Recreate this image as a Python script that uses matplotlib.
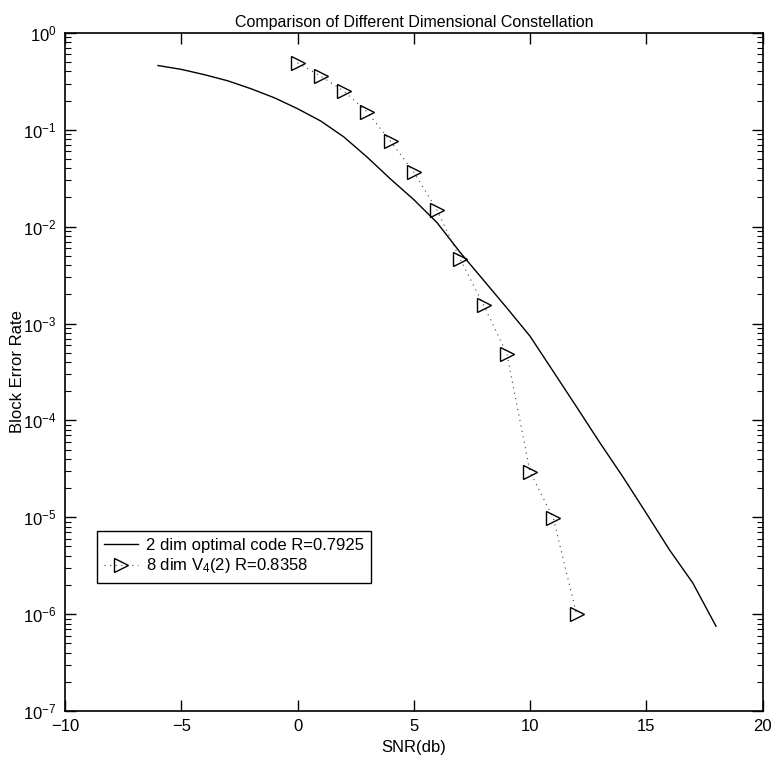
import matplotlib
matplotlib.use("Agg")
import matplotlib.pyplot as plt
from matplotlib import font_manager
import numpy as np

# font: narrow helvetica look if available
names = {f.name for f in font_manager.fontManager.ttflist}
fam = "Liberation Sans Narrow" if "Liberation Sans Narrow" in names else "Liberation Sans"
plt.rcParams["font.family"] = [fam, "DejaVu Sans"]
plt.rcParams["mathtext.fontset"] = "custom"
plt.rcParams["mathtext.rm"] = fam

# 2 dim optimal code, R=0.7925
snr_2d = [-6, -5, -4, -3, -2, -1, 0, 1, 2, 3, 4, 5, 6, 7, 8, 9, 10, 11, 12, 13, 14, 15, 16, 17, 18]
ber_2d = [0.46, 0.42, 0.37, 0.32, 0.265, 0.214, 0.165, 0.123, 0.084, 0.052, 0.031, 0.019,
          0.011, 5.4e-3, 2.8e-3, 1.45e-3, 7.4e-4, 3.2e-4, 1.38e-4, 5.9e-5, 2.6e-5, 1.1e-5,
          4.6e-6, 2.1e-6, 7.5e-7]

# 8 dim V4(2), R=0.8358
snr_8d = [0, 1, 2, 3, 4, 5, 6, 7, 8, 9, 10, 11, 12]
ber_8d = [0.49, 0.357, 0.25, 0.152, 0.076, 0.0366, 0.0148, 4.6e-3, 1.55e-3, 4.9e-4,
          2.95e-5, 9.8e-6, 1.0e-6]

fig = plt.figure(figsize=(7.75, 7.68), dpi=100)
ax = fig.add_axes([0.0839, 0.0742, 0.9, 0.883])

ax.semilogy(snr_2d, ber_2d, "k-", lw=1.0, label="2 dim optimal code R=0.7925")
ax.semilogy(snr_8d, ber_8d, color="0.25", ls=(0, (1, 4)), lw=0.8, marker=">",
            ms=9.5, mfc="none", mec="k", mew=1.0,
            label=r"8 dim $\mathregular{V_4}$(2) R=0.8358")

ax.set_xlim(-10, 20)
ax.set_ylim(1e-7, 1e0)
ax.set_xticks([-10, -5, 0, 5, 10, 15, 20])
ax.set_xticklabels(["\u221210", "\u22125", "0", "5", "10", "15", "20"])
ax.tick_params(which="both", direction="in", top=True, right=True, labelsize=12, pad=6)
ax.tick_params(which="major", length=8, width=1)
ax.tick_params(which="minor", length=4, width=0.8)
for s in ax.spines.values():
    s.set_linewidth(1.2)

ax.set_title("Comparison of Different Dimensional Constellation", fontsize=11.5, pad=4)
ax.set_xlabel("SNR(db)", fontsize=12, labelpad=4)
ax.set_ylabel("Block Error Rate", fontsize=12)
ax.yaxis.set_label_coords(-0.057, 0.5)

leg = ax.legend(loc="lower left", bbox_to_anchor=(0.0455, 0.189), fontsize=12,
                frameon=True, fancybox=False, edgecolor="k", framealpha=1,
                handlelength=2.0, handletextpad=0.5, borderpad=0.45,
                labelspacing=0.2, borderaxespad=0)
leg.get_frame().set_linewidth(1.0)

fig.savefig("out.png", dpi=100)
